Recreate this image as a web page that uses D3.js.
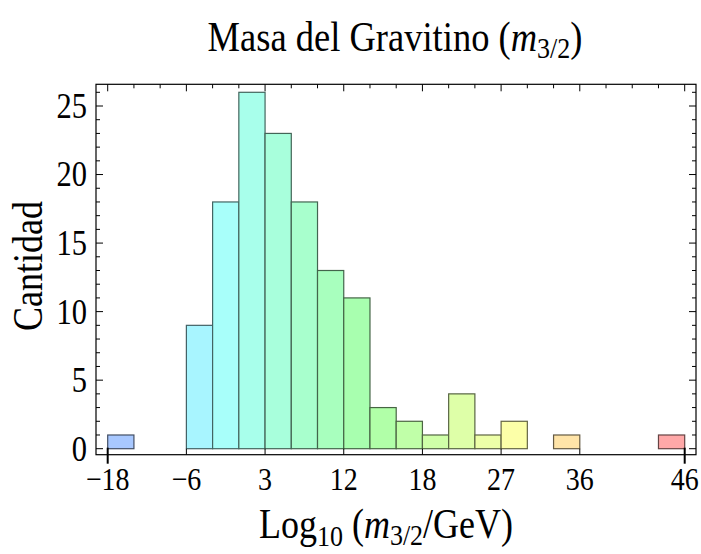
<!DOCTYPE html>
<html>
<head>
<meta charset="utf-8">
<script src="https://cdn.jsdelivr.net/npm/d3@7"></script>
<style>
  html, body { margin: 0; padding: 0; background: #fff; }
  svg { display: block; }
  text { font-family: "Liberation Serif", "DejaVu Serif", serif; fill: #000; }
</style>
</head>
<body>
<svg id="chart" width="701" height="554"></svg>
<script>
// Histogram of log10 gravitino masses: one count per bin, 22 equal bins
const counts = [1, 0, 0, 9, 18, 26, 23, 18, 13, 11, 3, 2, 1, 4, 1, 2, 0, 1, 0, 0, 0, 1];
// Labelled bin edges on the x axis and their text
const xTickEdges = [0, 3, 6, 9, 12, 15, 18, 22];
const xTickLabels = ["\u221218", "\u22126", "3", "12", "18", "27", "36", "46"];
// Labelled y ticks
const yTickValues = [0, 5, 10, 15, 20, 25];

const svg = d3.select("#chart");

// Frame box
const frame = { left: 96, right: 696, top: 84.3, bottom: 454.7 };

const x = d3.scaleLinear().domain([0, counts.length]).range([107.7, 684.7]);
const y = d3.scaleLinear().domain([0, 26]).range([448.7, 92.3]);

// Glyphs are drawn slightly tall and narrow
const stretch = "scale(1,1.15)";

// Hue runs from blue on the first bin to red on the last
const hue = d3.scaleLinear().domain([0, counts.length - 1]).range([218, 0]);
const fillOf = i => d3.hsl(hue(i), 1, 0.83).rgb();
const edgeOf = i => fillOf(i).darker(2.6);

// Bars (empty bins still draw their flat edge on the baseline)
svg.append("g").selectAll("rect")
  .data(counts)
  .join("rect")
  .attr("x", (d, i) => x(i))
  .attr("y", d => y(d))
  .attr("width", (d, i) => x(i + 1) - x(i))
  .attr("height", d => y(0) - y(d))
  .attr("fill", (d, i) => fillOf(i))
  .attr("stroke", (d, i) => edgeOf(i))
  .attr("stroke-width", 1.2);

// Frame
svg.append("rect")
  .attr("x", frame.left).attr("y", frame.top)
  .attr("width", frame.right - frame.left)
  .attr("height", frame.bottom - frame.top)
  .attr("fill", "none").attr("stroke", "#000").attr("stroke-width", 1.2);

const ticks = svg.append("g").attr("stroke", "#000").attr("stroke-width", 1);

// Left and right ticks: major every 5, minor every 1, pointing inward
const yAll = d3.range(0, 27);
yAll.forEach(v => {
  const len = v % 5 === 0 ? 7 : 4;
  ticks.append("line")
    .attr("x1", frame.left).attr("x2", frame.left + len)
    .attr("y1", y(v)).attr("y2", y(v));
  ticks.append("line")
    .attr("x1", frame.right).attr("x2", frame.right - len)
    .attr("y1", y(v)).attr("y2", y(v));
});

// Top ticks on every bin edge, longer on labelled edges
d3.range(0, counts.length + 1).forEach(e => {
  const len = xTickEdges.includes(e) ? 7 : 4;
  ticks.append("line")
    .attr("x1", x(e)).attr("x2", x(e))
    .attr("y1", frame.top).attr("y2", frame.top + len);
});

// Bottom ticks on labelled edges; the two end ticks reach below the frame
xTickEdges.forEach((e, k) => {
  const end = k === 0 || k === xTickEdges.length - 1;
  ticks.append("line")
    .attr("x1", x(e)).attr("x2", x(e))
    .attr("y1", end ? y(0) - 1 : frame.bottom)
    .attr("y2", end ? frame.bottom + 9 : y(0))
    .attr("stroke-width", end ? 2 : 1);
});

// Tick labels
svg.append("g").selectAll("text")
  .data(yTickValues)
  .join("text")
  .attr("transform", d => `translate(87,${y(d)}) ${stretch}`)
  .attr("dy", "0.34em")
  .attr("text-anchor", "end")
  .attr("font-size", 30.5)
  .text(d => d);

svg.append("g").selectAll("text")
  .data(xTickEdges)
  .join("text")
  .attr("transform", d => `translate(${x(d)},490) ${stretch}`)
  .attr("text-anchor", "middle")
  .attr("font-size", 28)
  .text((d, i) => xTickLabels[i]);

// Title
const title = svg.append("text")
  .attr("transform", `translate(395,51) ${stretch}`)
  .attr("text-anchor", "middle")
  .attr("font-size", 36.5);
title.append("tspan").text("Masa del Gravitino (");
title.append("tspan").attr("font-style", "italic").text("m");
title.append("tspan").attr("font-size", 26).attr("dy", 6).text("3/2");
title.append("tspan").attr("dy", -6).text(")");

// X axis title
const xt = svg.append("text")
  .attr("transform", `translate(386,538) ${stretch}`)
  .attr("text-anchor", "middle")
  .attr("font-size", 36);
xt.append("tspan").text("Log");
xt.append("tspan").attr("font-size", 26).attr("dy", 7).text("10");
xt.append("tspan").attr("dy", -7).text(" (");
xt.append("tspan").attr("font-style", "italic").text("m");
xt.append("tspan").attr("font-size", 26).attr("dy", 6).text("3/2");
xt.append("tspan").attr("dy", -6).text("/GeV)");

// Y axis title
svg.append("text")
  .attr("transform", `translate(42,266) rotate(-90) ${stretch}`)
  .attr("text-anchor", "middle")
  .attr("font-size", 36)
  .text("Cantidad");
</script>
</body>
</html>
